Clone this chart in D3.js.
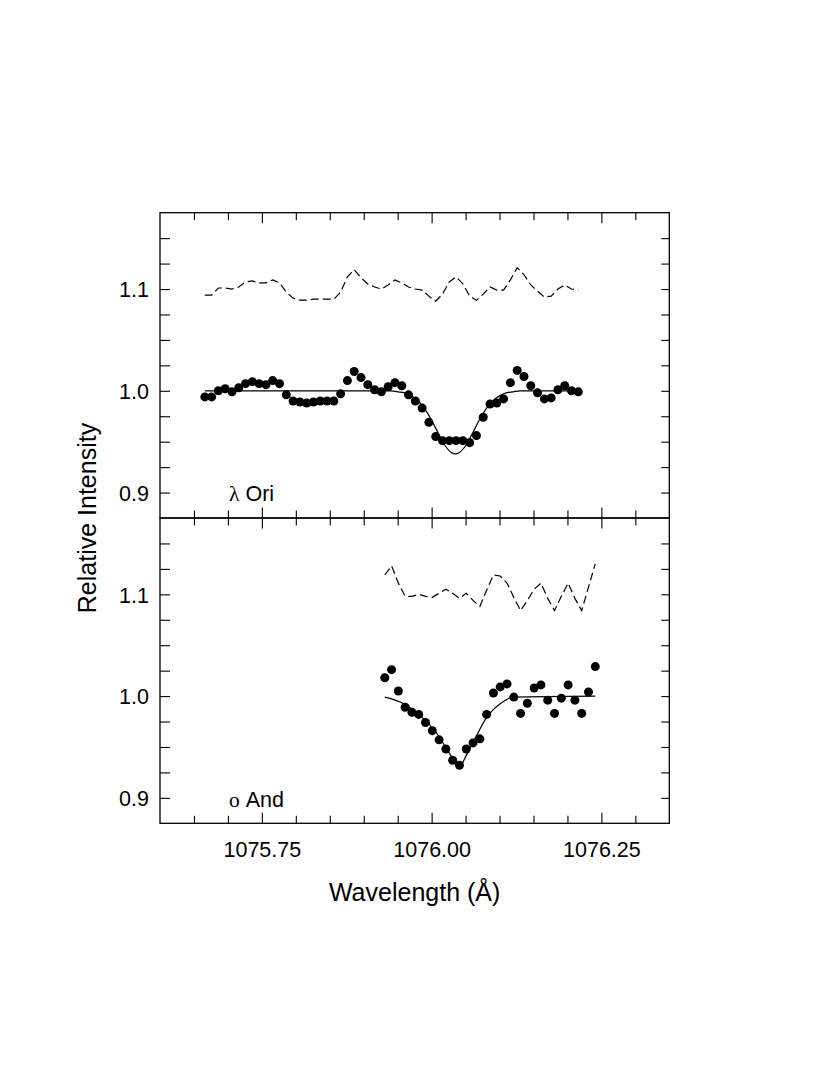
<!DOCTYPE html>
<html>
<head>
<meta charset="utf-8">
<script src="https://cdnjs.cloudflare.com/ajax/libs/d3/7.8.5/d3.min.js"></script>
<style>
  body { margin: 0; background: #fff; }
  svg text { font-family: "Liberation Sans", Arial, Helvetica, sans-serif; fill: #000; }
</style>
</head>
<body>
<svg id="chart" width="830" height="1087"></svg>
<script>
// --- data ---
// lambda Ori (top panel)
var oriWl = [1075.666, 1075.676, 1075.686, 1075.696, 1075.706, 1075.716, 1075.726, 1075.736,
  1075.746, 1075.756, 1075.766, 1075.776, 1075.786, 1075.796, 1075.806, 1075.816, 1075.826,
  1075.836, 1075.846, 1075.856, 1075.866, 1075.876, 1075.886, 1075.896, 1075.906, 1075.916,
  1075.926, 1075.936, 1075.946, 1075.956, 1075.966, 1075.976, 1075.986, 1075.996, 1076.006,
  1076.016, 1076.026, 1076.036, 1076.046, 1076.056, 1076.066, 1076.076, 1076.086, 1076.096,
  1076.106, 1076.116, 1076.126, 1076.136, 1076.146, 1076.156, 1076.166, 1076.176, 1076.186,
  1076.196, 1076.206, 1076.216];
var oriFlux = [0.994, 0.994, 1.000, 1.002, 0.999, 1.003, 1.007, 1.009, 1.007, 1.006,
  1.010, 1.007, 0.996, 0.990, 0.989, 0.988, 0.989, 0.990, 0.990, 0.990,
  0.997, 1.010, 1.019, 1.013, 1.006, 1.001, 0.999, 1.004, 1.008, 1.005,
  0.996, 0.990, 0.983, 0.969, 0.955, 0.951, 0.951, 0.951, 0.951, 0.949,
  0.956, 0.974, 0.987, 0.988, 0.992, 1.008, 1.020, 1.014, 1.005, 0.998,
  0.992, 0.993, 1.001, 1.005, 1.000, 0.999];
var oriResid = [1.094, 1.094, 1.101, 1.101, 1.100, 1.102, 1.107, 1.108, 1.106, 1.106,
  1.109, 1.106, 1.097, 1.091, 1.089, 1.089, 1.090, 1.090, 1.090, 1.090,
  1.097, 1.112, 1.119, 1.111, 1.105, 1.102, 1.100, 1.104, 1.109, 1.106,
  1.102, 1.100, 1.099, 1.093, 1.088, 1.095, 1.107, 1.112, 1.105, 1.093,
  1.089, 1.095, 1.102, 1.099, 1.099, 1.109, 1.121, 1.114, 1.104, 1.098,
  1.092, 1.093, 1.100, 1.104, 1.100, 1.099];
var oriFitWl = [1075.666, 1075.940, 1075.950, 1075.960, 1075.970, 1075.980, 1075.990, 1076.000,
  1076.010, 1076.020, 1076.030, 1076.035, 1076.040, 1076.050, 1076.060, 1076.070, 1076.080,
  1076.090, 1076.100, 1076.110, 1076.120, 1076.130, 1076.216];
var oriFit = [1.000, 1.000, 0.999, 0.998, 0.995, 0.990, 0.982, 0.971,
  0.958, 0.946, 0.939, 0.938, 0.939, 0.946, 0.958, 0.971, 0.982,
  0.990, 0.995, 0.998, 0.999, 1.000, 1.000];

// omicron And (bottom panel)
var andWl = [1075.931, 1075.941, 1075.951, 1075.961, 1075.971, 1075.981, 1075.991, 1076.001,
  1076.011, 1076.021, 1076.031, 1076.041, 1076.051, 1076.061, 1076.071, 1076.081, 1076.091,
  1076.101, 1076.111, 1076.121, 1076.131, 1076.141, 1076.151, 1076.161, 1076.171, 1076.181,
  1076.191, 1076.201, 1076.211, 1076.221, 1076.231, 1076.241];
var andFlux = [1.018, 1.026, 1.005, 0.989, 0.984, 0.982, 0.974, 0.966, 0.957, 0.948,
  0.937, 0.932, 0.948, 0.954, 0.958, 0.982, 1.003, 1.009, 1.012, 0.999,
  0.983, 0.993, 1.008, 1.011, 0.996, 0.983, 0.998, 1.011, 0.996, 0.983,
  1.004, 1.029];
var andResid = [1.119, 1.128, 1.111, 1.098, 1.098, 1.100, 1.098, 1.097, 1.101, 1.105,
  1.101, 1.096, 1.101, 1.094, 1.088, 1.104, 1.119, 1.118, 1.111, 1.097,
  1.084, 1.094, 1.105, 1.111, 1.096, 1.084, 1.098, 1.111, 1.096, 1.084,
  1.107, 1.130];
var andFitWl = [1075.931, 1075.959, 1075.983, 1076.008, 1076.027, 1076.041, 1076.052,
  1076.066, 1076.081, 1076.101, 1076.120, 1076.241];
var andFit = [0.999, 0.9925, 0.981, 0.963, 0.943, 0.931, 0.943, 0.961, 0.979, 0.9925, 0.999, 1.000];

// axes
var xTicks = [1075.65, 1075.70, 1075.75, 1075.80, 1075.85, 1075.90, 1075.95, 1076.00,
  1076.05, 1076.10, 1076.15, 1076.20, 1076.25, 1076.30];
var xLabels = [1075.75, 1076.00, 1076.25];
var yTicks = [0.9, 0.925, 0.95, 0.975, 1.0, 1.025, 1.05, 1.075, 1.1, 1.125, 1.15];
var yLabels = [0.9, 1.0, 1.1];

var svg = d3.select("#chart");
var left = 160, right = 669.3;
var x = d3.scaleLinear().domain([1075.60, 1076.35]).range([left, right]);

function isIn(list, v) { return list.some(function(t){ return Math.abs(t - v) < 1e-6; }); }

function panel(top, bottom, star, wl, flux, resid, fitWl, fit, showXLabels) {
  var y = d3.scaleLinear().domain([0.875, 1.175]).range([bottom, top]);
  var g = svg.append("g");

  // axes, ticks pointing inward
  var ax = g.append("g").attr("transform", "translate(" + left + ",0)")
    .call(d3.axisLeft(y).tickValues(yTicks).tickSize(-10).tickPadding(11)
      .tickFormat(function(d){ return isIn(yLabels, d) ? d3.format(".1f")(d) : ""; }));
  ax.select(".domain").remove();
  ax.selectAll("text").attr("font-size", 21.5).attr("font-family", null).attr("dy", "0.36em");

  var ar = g.append("g").attr("transform", "translate(" + right + ",0)")
    .call(d3.axisRight(y).tickValues(yTicks).tickSize(-8).tickFormat(""));
  ar.select(".domain").remove();

  var at = g.append("g").attr("transform", "translate(0," + top + ")")
    .call(d3.axisTop(x).tickValues(xTicks).tickSize(-7.5).tickFormat(""));
  at.select(".domain").remove();
  at.selectAll(".tick line").attr("y2", function(d){ return isIn(xLabels, d) ? 10.5 : 7.5; });

  var ab = g.append("g").attr("transform", "translate(0," + bottom + ")")
    .call(d3.axisBottom(x).tickValues(xTicks).tickSize(-7.5).tickPadding(18.5)
      .tickFormat(function(d){ return showXLabels && isIn(xLabels, d) ? d3.format(".2f")(d) : ""; }));
  ab.select(".domain").remove();
  ab.selectAll(".tick line").attr("y2", function(d){ return isIn(xLabels, d) ? -10.5 : -7.5; });
  ab.selectAll("text").attr("font-size", 21.5).attr("font-family", null).attr("dy", "0.71em");

  g.selectAll(".tick line").attr("stroke", "#000").attr("stroke-width", 1.1);

  // frame
  g.append("rect")
    .attr("x", left).attr("y", top)
    .attr("width", right - left).attr("height", bottom - top)
    .attr("fill", "none").attr("stroke", "#000").attr("stroke-width", 1.3);

  // residual (dashed)
  var pts = wl.map(function(w, i){ return {w: w, f: flux[i], r: resid[i]}; });
  g.append("path")
    .datum(pts)
    .attr("fill", "none").attr("stroke", "#000").attr("stroke-width", 1.2)
    .attr("stroke-dasharray", "8,4")
    .attr("d", d3.line().x(function(d){ return x(d.w); }).y(function(d){ return y(d.r); }));

  // fit
  var fitPts = fitWl.map(function(w, i){ return {w: w, f: fit[i]}; });
  g.append("path")
    .datum(fitPts)
    .attr("fill", "none").attr("stroke", "#000").attr("stroke-width", 1.2)
    .attr("d", d3.line().curve(d3.curveMonotoneX)
      .x(function(d){ return x(d.w); }).y(function(d){ return y(d.f); }));

  // data points
  g.selectAll("circle.pt")
    .data(pts)
    .enter()
    .append("circle")
      .attr("class", "pt")
      .attr("cx", function(d){ return x(d.w); })
      .attr("cy", function(d){ return y(d.f); })
      .attr("r", 4.5)
      .attr("fill", "#000");

  // star name
  var t = g.append("text").attr("x", 229).attr("y", y(0.8915)).attr("font-size", 21.5);
  t.append("tspan").attr("font-family", "'Liberation Serif', 'Times New Roman', serif").text(star[0]);
  t.append("tspan").text(" " + star[1]);
}

panel(212.7, 518, ["λ", "Ori"], oriWl, oriFlux, oriResid, oriFitWl, oriFit, false);
panel(518, 823.3, ["ο", "And"], andWl, andFlux, andResid, andFitWl, andFit, true);

// axis titles
svg.append("text")
  .attr("x", (left + right) / 2).attr("y", 901)
  .attr("text-anchor", "middle").attr("font-size", 25)
  .text("Wavelength (Å)");

svg.append("text")
  .attr("transform", "translate(96,518) rotate(-90)")
  .attr("text-anchor", "middle").attr("font-size", 25)
  .text("Relative Intensity");
</script>
</body>
</html>
